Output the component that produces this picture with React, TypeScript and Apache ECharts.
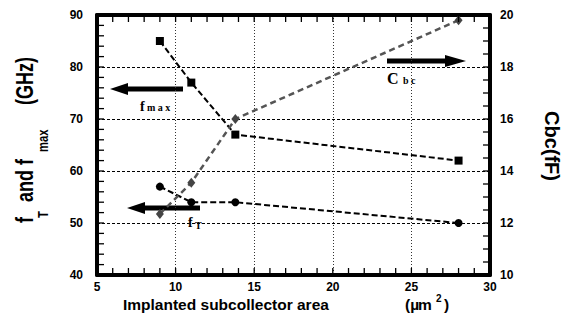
import React, { useEffect, useRef } from "react";
import * as echarts from "echarts";

// Implanted subcollector area (µm²)
const areas = [9, 11, 13.8, 28];
// fmax (GHz) – squares
const fmaxValues = [85, 77, 67, 62];
// fT (GHz) – circles
const fTValues = [57, 54, 54, 50];
// Cbc (fF) – diamonds, right axis
const cbcValues = [12.35, 13.55, 16.0, 19.8];

const xTicks = { min: 5, max: 30, interval: 5 };
const leftTicks = { min: 40, max: 90, interval: 10 };
const rightTicks = { min: 10, max: 20, interval: 2 };
// minor tick steps
const xStep = 1;
const leftStep = 2;
const rightStep = 0.5;

const SANS = "'Liberation Sans', Arial, Helvetica, sans-serif";
const SERIF = "'Liberation Serif', 'Times New Roman', serif";

function range(min: number, max: number, step: number) {
  const out: number[] = [];
  for (let v = min; v <= max + 1e-9; v += step) out.push(Math.round(v * 1000) / 1000);
  return out;
}

function txt(x: number, y: number, text: string, font: string, align = "left", va = "middle", fill = "#000") {
  return {
    type: "text",
    x,
    y,
    silent: true,
    style: { text, font, fill, align, verticalAlign: va, textAlign: align, textVerticalAlign: va },
  };
}

function axisParts(labelMargin: number, showLabel = true) {
  return {
    axisLine: { show: true, onZero: false, lineStyle: { color: "#000", width: 4 } },
    axisTick: { show: false },
    minorTick: { show: false },
    axisLabel: {
      show: showLabel,
      fontFamily: SANS,
      fontWeight: "bold",
      fontSize: 12,
      color: "#000",
      margin: labelMargin,
    },
  };
}

const TICK = 7;
const tickLine = (x1: number, y1: number, x2: number, y2: number) => ({
  type: "line",
  shape: { x1, y1, x2, y2 },
  style: { stroke: "#000", lineWidth: 1.3 },
});

export default function App() {
  const ref = useRef<HTMLDivElement>(null);

  useEffect(() => {
    if (!ref.current) return;
    const chart = echarts.init(ref.current, undefined, { renderer: "svg" });

    const sc = 0.75;
    const option: any = {
      animation: false,
      backgroundColor: "#fff",
      grid: { left: 97, right: 79, top: 15, bottom: 45 },
      xAxis: [
        {
          type: "value",
          position: "bottom",
          ...xTicks,
          ...axisParts(6),
          splitLine: { show: true, lineStyle: { color: "#333", type: [1, 2], width: 1 } },
        },
        {
          type: "value",
          position: "top",
          ...xTicks,
          ...axisParts(6, false),
          splitLine: { show: false },
        },
      ],
      yAxis: [
        {
          type: "value",
          position: "left",
          ...leftTicks,
          ...axisParts(14),
          splitLine: { show: true, lineStyle: { color: "#000", type: [3, 2], width: 1 } },
        },
        {
          type: "value",
          position: "right",
          ...rightTicks,
          ...axisParts(10),
          splitLine: { show: false },
        },
      ],
      series: [
        // tick marks along bottom & top (x axis)
        {
          type: "custom",
          coordinateSystem: "cartesian2d",
          xAxisIndex: 0,
          yAxisIndex: 0,
          clip: false,
          silent: true,
          z: 10,
          data: range(xTicks.min, xTicks.max, xStep).map((v) => [v, leftTicks.min]),
          renderItem: (_p: any, api: any) => {
            const v = api.value(0);
            const b = api.coord([v, leftTicks.min]);
            const t = api.coord([v, leftTicks.max]);
            return {
              type: "group",
              children: [tickLine(b[0], b[1], b[0], b[1] - TICK), tickLine(t[0], t[1], t[0], t[1] + TICK)],
            };
          },
        },
        // tick marks along left axis
        {
          type: "custom",
          coordinateSystem: "cartesian2d",
          xAxisIndex: 0,
          yAxisIndex: 0,
          clip: false,
          silent: true,
          z: 10,
          data: range(leftTicks.min, leftTicks.max, leftStep).map((v) => [xTicks.min, v]),
          renderItem: (_p: any, api: any) => {
            const p = api.coord([xTicks.min, api.value(1)]);
            return tickLine(p[0], p[1], p[0] + TICK, p[1]);
          },
        },
        // tick marks along right axis
        {
          type: "custom",
          coordinateSystem: "cartesian2d",
          xAxisIndex: 0,
          yAxisIndex: 1,
          clip: false,
          silent: true,
          z: 10,
          data: range(rightTicks.min, rightTicks.max, rightStep).map((v) => [xTicks.max, v]),
          renderItem: (_p: any, api: any) => {
            const p = api.coord([xTicks.max, api.value(1)]);
            return tickLine(p[0], p[1], p[0] - TICK, p[1]);
          },
        },
        {
          name: "fmax",
          type: "line",
          data: areas.map((a, i) => [a, fmaxValues[i]]),
          symbol: "rect",
          symbolSize: 8,
          itemStyle: { color: "#000" },
          lineStyle: { color: "#000", width: 2, type: [6, 3] },
          z: 3,
        },
        {
          name: "fT",
          type: "line",
          data: areas.map((a, i) => [a, fTValues[i]]),
          symbol: "circle",
          symbolSize: 8,
          itemStyle: { color: "#000" },
          lineStyle: { color: "#000", width: 2, type: [6, 3] },
          z: 3,
        },
        {
          name: "Cbc",
          type: "line",
          yAxisIndex: 1,
          data: areas.map((a, i) => [a, cbcValues[i]]),
          symbol: "diamond",
          symbolSize: [8, 10],
          itemStyle: { color: "#444" },
          lineStyle: { color: "#555", width: 2.5, type: [6, 4] },
          z: 3,
        },
      ],
      graphic: [
        // left axis title
        {
          type: "group",
          x: 33,
          y: 225,
          rotation: Math.PI / 2,
          scaleX: sc,
          children: [
            txt(2 / sc, -8.5, "f", `bold 24px ${SANS}`),
            txt(7 / sc, 9.5, "T", `bold 15px ${SANS}`),
            txt(23 / sc, -8.5, "and", `bold 24px ${SANS}`),
            txt(60 / sc, -8.5, "f", `bold 24px ${SANS}`),
            txt(73 / sc, 9.5, "max", `bold 15px ${SANS}`),
            txt(120 / sc, -8.5, "(GHz)", `bold 24px ${SANS}`),
          ],
        },
        // right axis title
        {
          type: "group",
          x: 552,
          y: 146,
          rotation: -Math.PI / 2,
          children: [txt(0, 0, "Cbc(fF)", `bold 20px ${SANS}`, "center", "middle")],
        },
        // x axis title
        txt(123, 304, "Implanted subcollector area", `bold 15.5px ${SANS}`),
        txt(405, 304, "(µ", `bold 15.5px ${SANS}`),
        txt(418, 304, "m", `bold 15.5px ${SANS}`),
        txt(436, 298, "2", `bold 10px ${SANS}`),
        txt(444, 304, ")", `bold 15.5px ${SANS}`),
        // fmax arrow (left)
        { type: "rect", shape: { x: 126, y: 86.5, width: 57, height: 5 }, style: { fill: "#000" } },
        { type: "polygon", shape: { points: [[110, 89], [128, 83], [128, 95]] }, style: { fill: "#000" } },
        txt(140, 106, "f", `bold 14px ${SERIF}`),
        txt(147, 107, "m a x", `bold 10px ${SERIF}`),
        // fT arrow (left)
        { type: "rect", shape: { x: 143, y: 205.5, width: 57, height: 5 }, style: { fill: "#000" } },
        { type: "polygon", shape: { points: [[127, 208], [145, 202], [145, 214]] }, style: { fill: "#000" } },
        txt(188, 222, "f", `bold 14px ${SERIF}`),
        txt(195, 225, "T", `bold 10px ${SERIF}`),
        // Cbc arrow (right)
        { type: "rect", shape: { x: 387, y: 58.5, width: 60, height: 5 }, style: { fill: "#000" } },
        { type: "polygon", shape: { points: [[466, 61], [445, 55], [445, 67]] }, style: { fill: "#000" } },
        txt(387, 78, "C", `bold 16px ${SERIF}`),
        txt(403, 80, "b c", `bold 10px ${SERIF}`),
      ],
    };

    chart.setOption(option);
    return () => chart.dispose();
  }, []);

  return <div ref={ref} style={{ width: 569, height: 320, position: "absolute", left: 0, top: 0 }} />;
}
